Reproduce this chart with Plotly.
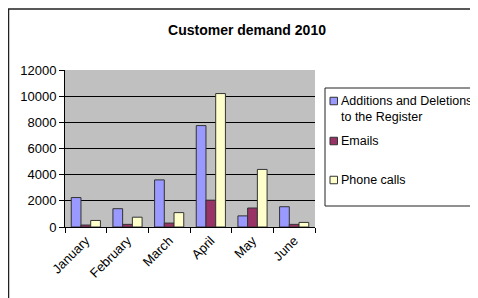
import plotly.graph_objects as go

months = ["January", "February", "March", "April", "May", "June"]
additions = [2250, 1400, 3600, 7750, 850, 1550]
emails = [150, 200, 300, 2050, 1450, 200]
phone_calls = [500, 750, 1100, 10200, 4400, 350]
series_names = ["Additions and Deletions<br>to the Register", "Emails", "Phone calls"]
colors = ["#9999FF", "#993366", "#FFFFCC"]
y_ticks = [0, 2000, 4000, 6000, 8000, 10000, 12000]

FONT = "Arial"
OFF = 8  # page body margin

fig = go.Figure()
for name, vals, col in zip(series_names, [additions, emails, phone_calls], colors):
    fig.add_trace(go.Bar(
        x=months, y=vals, name=name, showlegend=False,
        marker=dict(color=col, line=dict(color="#333333", width=1)),
    ))

W, H = 478, 298
# screen coords of plot area
SX0, SX1, SY0, SY1 = 65, 315, 70, 227
L = SX0 - OFF
T = SY0 - OFF
R = W - (SX1 - OFF)
B = H - (SY1 - OFF)
pw, ph = W - L - R, H - T - B

def px_x(p):
    return (p - OFF - L) / pw

def px_y(p):
    return (H - B - (p - OFF)) / ph

shapes = [
    dict(type="rect", xref="paper", yref="paper",
         x0=px_x(8.5), x1=px_x(500), y0=px_y(320), y1=px_y(9),
         line=dict(color="#222222", width=1.5), fillcolor="rgba(0,0,0,0)", layer="below"),
    dict(type="rect", xref="paper", yref="paper",
         x0=px_x(325), x1=px_x(500), y0=px_y(206), y1=px_y(88),
         line=dict(color="#222222", width=1), fillcolor="white"),
]
annotations = []
legend_rows = [101, 141, 180]
for name, col, yc in zip(series_names, colors, legend_rows):
    shapes.append(dict(type="rect", xref="paper", yref="paper",
                       x0=px_x(330), x1=px_x(337.5), y0=px_y(yc + 3.75), y1=px_y(yc - 3.75),
                       line=dict(color="#333333", width=1), fillcolor=col))
    annotations.append(dict(text=name, xref="paper", yref="paper",
                            x=px_x(339), y=px_y(yc - 9), xanchor="left", yanchor="top",
                            align="left", showarrow=False,
                            font=dict(size=12.5, family=FONT, color="black")))

fig.update_layout(
    width=W, height=H,
    margin=dict(l=L, r=R, t=T, b=B, autoexpand=False),
    paper_bgcolor="white",
    plot_bgcolor="#C0C0C0",
    barmode="group",
    bargap=0.3,
    bargroupgap=0,
    showlegend=False,
    font=dict(family=FONT, size=13, color="black"),
    title=dict(text="<b>Customer demand 2010</b>", x=(247 - OFF) / W, xanchor="center",
               y=1 - (30 - OFF) / H, yanchor="middle", yref="container",
               font=dict(size=14, family=FONT, color="black")),
    xaxis=dict(
        tickson="boundaries", ticks="outside", ticklen=5, tickcolor="black",
        showline=True, linecolor="black", linewidth=1, tickangle=-45,
        showgrid=False, tickfont=dict(size=13, family=FONT),
    ),
    yaxis=dict(
        range=[0, 12000], tickvals=y_ticks, ticktext=[str(v) for v in y_ticks],
        ticks="outside", ticklen=5,
        tickcolor="black", showline=True, linecolor="black", linewidth=1,
        showgrid=True, gridcolor="black", gridwidth=1, zeroline=False,
        tickfont=dict(size=13, family=FONT),
    ),
    shapes=shapes,
    annotations=annotations,
)

fig.write_html("out.html")
